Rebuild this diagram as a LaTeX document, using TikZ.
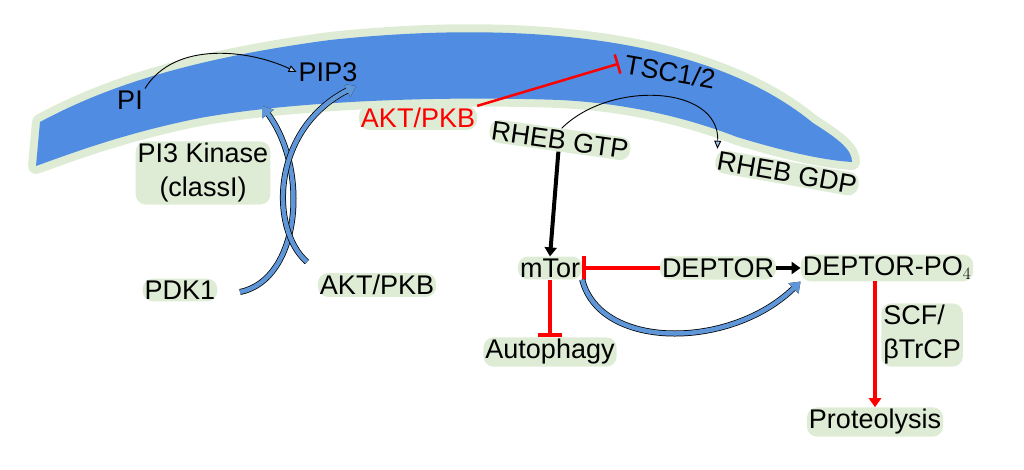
\documentclass[tikz,border=0pt]{standalone}
\usepackage{fontspec}
\setmainfont{Liberation Sans}
\usetikzlibrary{arrows.meta}
\definecolor{memb}{RGB}{80,140,225}
\definecolor{glow}{RGB}{222,236,214}
\definecolor{rib}{RGB}{95,150,215}
\begin{document}
\begin{tikzpicture}[x=1pt,y=-1pt,
  lab/.style={font=\fontsize{27}{29}\selectfont, inner sep=2pt},
  halo/.style={lab, fill=glow, rounded corners=10pt},
  thin arr/.style={black, line width=0.9pt, -{Triangle[open,length=8pt,width=7pt,fill=rib!60]}},
  ribbon/.style={preaction={draw=black,line width=6pt}, draw=rib, line width=4.5pt},
  inh/.style={red, line width=4pt, -{Bar[width=24pt,line width=4pt]}},
  act/.style={black, line width=4pt, -{Triangle[length=9pt,width=12pt]}},
  ract/.style={red, line width=4pt, -{Triangle[length=9pt,width=12pt]}},
  membpath/.style={insert path={
  (36,166) -- (40,122) .. controls (100,90) and (180,60) .. (330,40)
  .. controls (500,22) and (700,30) .. (813,123)
  .. controls (840,140) and (852,150) .. (852,162)
  .. controls (820,160) and (780,150) .. (737,137)
  .. controls (680,115) and (620,103) .. (560,100)
  .. controls (450,96) and (300,100) .. (200,118)
  .. controls (130,132) and (80,150) .. (36,166) -- cycle}}]
\useasboundingbox (0,0) rectangle (1024,470);
% membrane
\path[draw=glow, line width=16pt, line join=round, membpath];
\path[fill=memb, membpath];
% labels
\node[lab] (pi) at (130,100) {PI};
\node[lab] (pip3) at (328,72) {PIP3};
\node[halo, text=red] (akt) at (418,118) {AKT/PKB};
\node[halo, rotate=-8] (gtp) at (560,140) {RHEB GTP};
\node[lab, rotate=-10] (tsc) at (670,72) {TSC1/2};
\node[halo, rotate=-10] (gdp) at (787,173) {RHEB GDP};
\node[halo, align=center, font=\fontsize{27}{34}\selectfont] (pi3k) at (203,173) {PI3 Kinase\\(classI)};
\node[halo] (pdk1) at (180,290) {PDK1};
\node[halo] (akt2) at (377,285) {AKT/PKB};
\node[halo] (mtor) at (550,268) {mTor};
\node[halo] (dep) at (718,268) {DEPTOR};
\node[halo] (deppo) at (887,268) {DEPTOR-PO$_4$};
\node[halo] (auto) at (550,352) {Autophagy};
\node[halo, align=left, font=\fontsize{27}{34}\selectfont] (scf) at (922,335) {SCF/\\βTrCP};
\node[halo] (prot) at (875,422) {Proteolysis};
\coordinate (c1) at (262,106);
\coordinate (c2) at (356,86);
\coordinate (c3) at (240,292);
\coordinate (c4) at (307,262);
% connectors
\draw[thin arr] (pi.north east) .. controls (175,40) and (250,50) .. (pip3.west);
\draw[ribbon, -{Triangle[length=10pt,width=14pt,fill=rib]}] (c3) .. controls (300,280) and (310,170) .. (c1);
\draw[ribbon, -{Triangle[length=10pt,width=14pt,fill=rib]}] (c4) .. controls (270,230) and (270,130) .. (c2);
\draw[red, line width=2.5pt, -{Bar[width=20pt,line width=2.5pt]}] (akt.north east) -- ([xshift=-4pt]tsc.west);
\draw[thin arr] (gtp.north) .. controls (610,80) and (720,85) .. (gdp.north west);
\draw[act] (gtp.south) -- (mtor.north);
\draw[inh] (mtor.south) -- (auto.north);
\draw[inh] (dep.west) -- (mtor.east);
\draw[act] (dep.east) -- (deppo.west);
\draw[ribbon, -{Triangle[length=10pt,width=14pt,fill=rib]}] (mtor.south east) .. controls (600,350) and (730,350) .. (deppo.south west);
\draw[ract] ([xshift=-12pt]deppo.south) -- (prot.north);
\end{tikzpicture}
\end{document}
